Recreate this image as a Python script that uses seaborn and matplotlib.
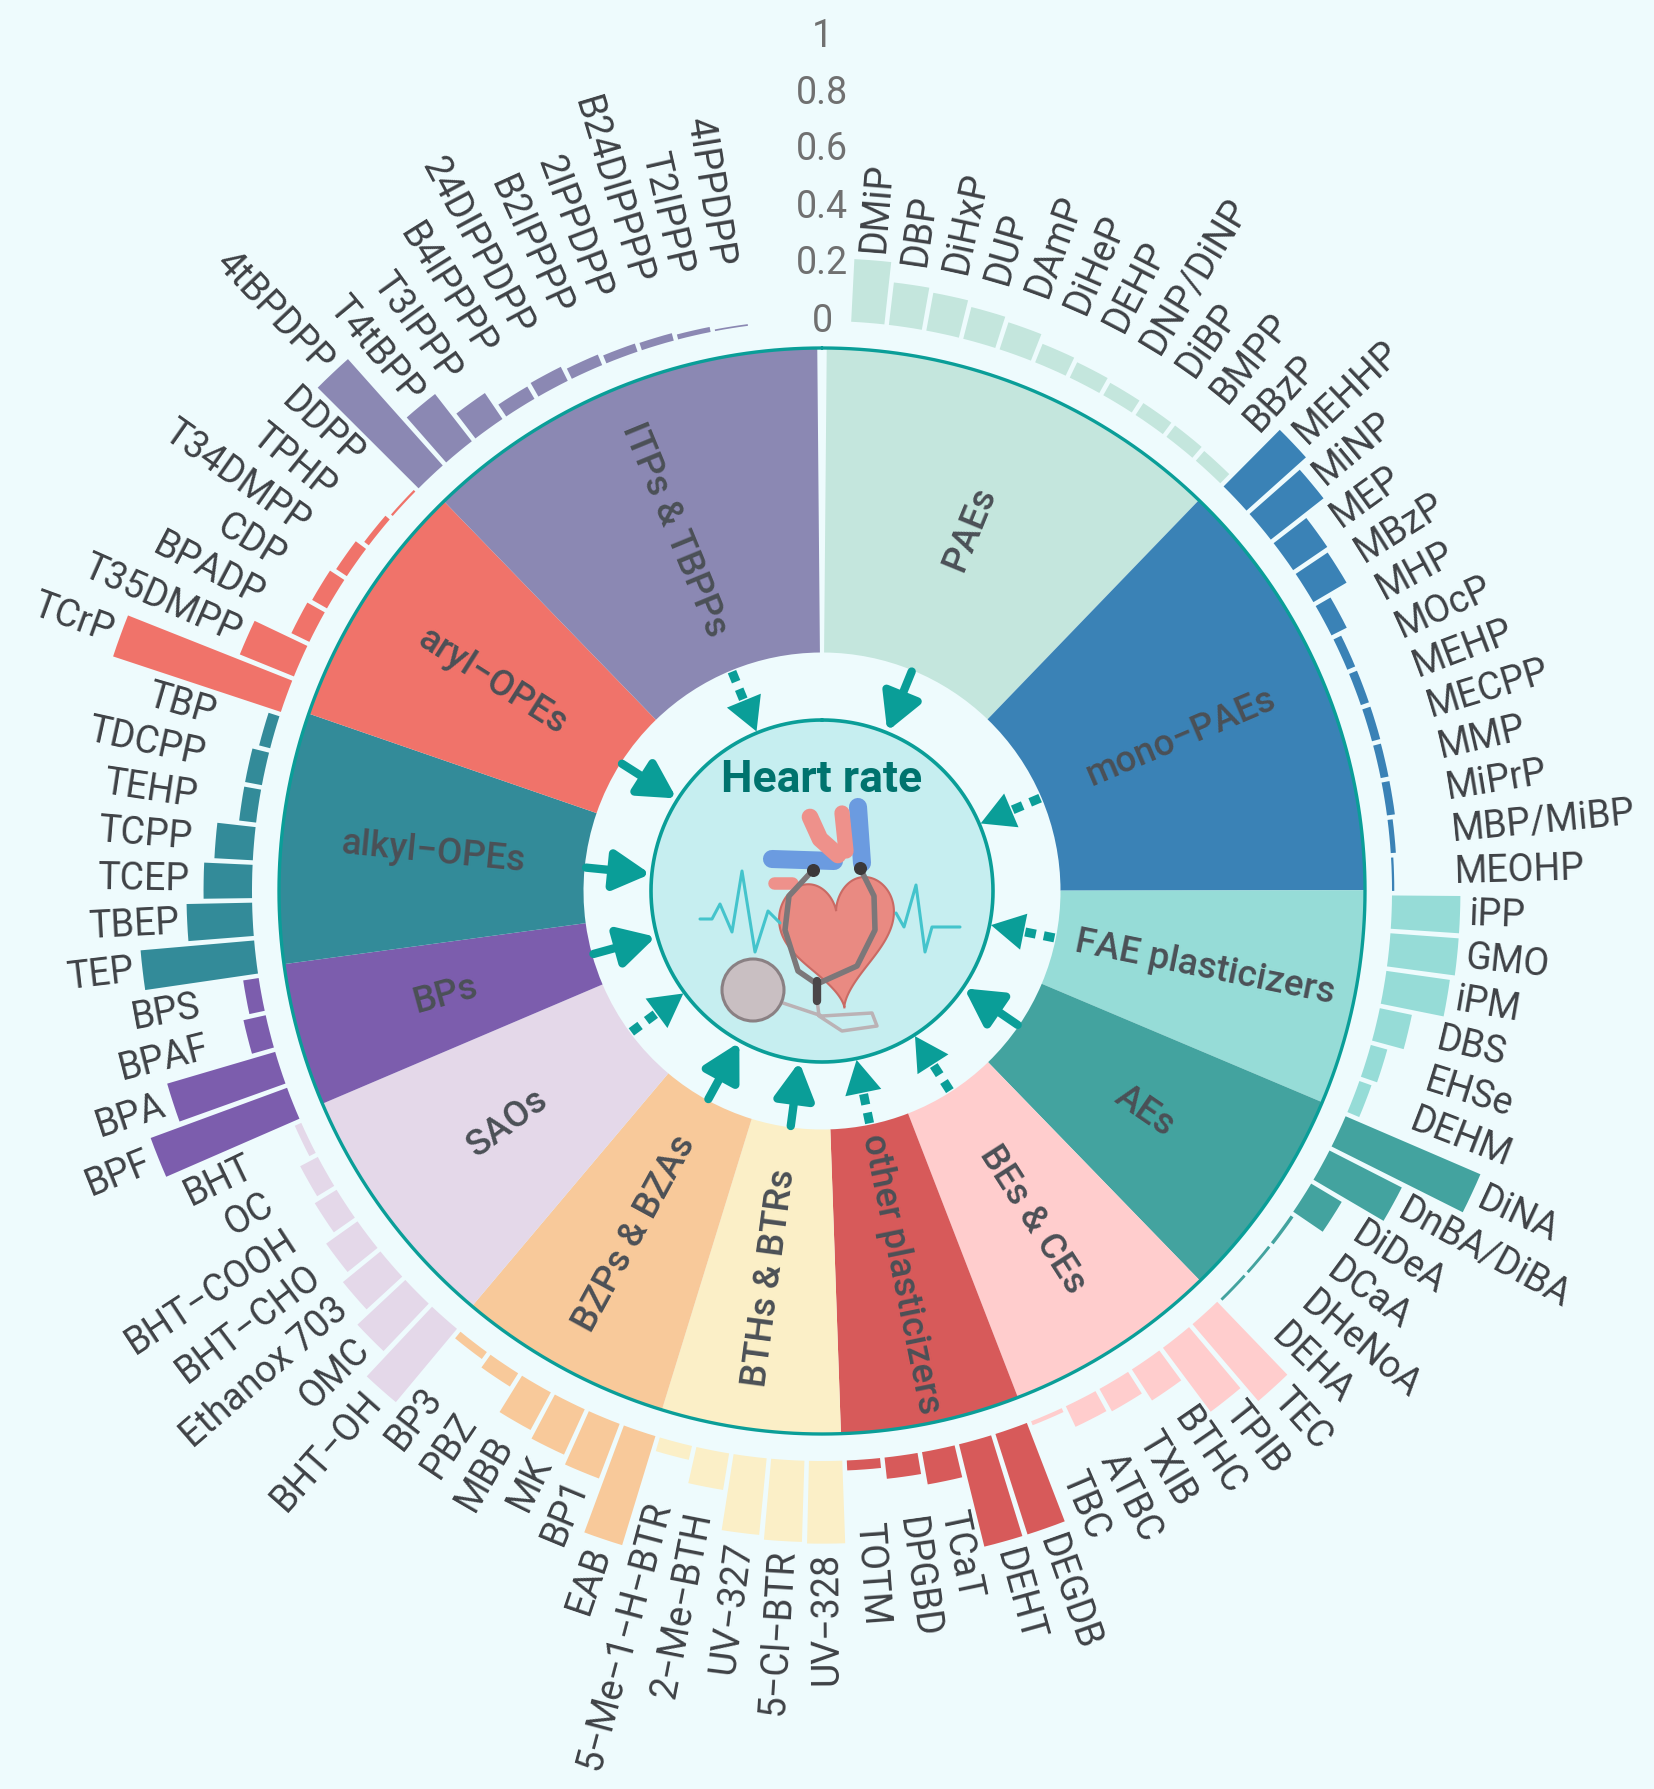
import numpy as np
import matplotlib.pyplot as plt
import seaborn as sns

# ---------------- data (clockwise from the top) ----------------
group_names = ["PAEs", "mono-PAEs", "FAE plasticizers", "AEs", "BEs & CEs",
               "other plasticizers", "BTHs & BTRs", "BZPs & BZAs", "SAOs", "BPs",
               "alkyl-OPEs", "aryl-OPEs", "ITPs & TBPPs"]
group_colors = ["#c4e6dd", "#3a82b6", "#96dcd7", "#43a39f", "#ffcdcd", "#d75a5a",
                "#fbefc7", "#f8c99a", "#e4d8e9", "#7c5dad", "#338b99", "#f0736a", "#8b88b3"]
# solid arrow = True, dotted arrow = False
group_solid = [True, False, False, True, False, False, True, True, False, True, True, True, False]

pae_names = ["DMiP", "DBP", "DiHxP", "DUP", "DAmP", "DiHeP", "DEHP", "DNP/DiNP", "DiBP", "BMPP", "BBzP"]
pae_vals = [0.22, 0.15, 0.135, 0.115, 0.10, 0.07, 0.06, 0.05, 0.05, 0.05, 0.045]

mono_names = ["MEHHP", "MiNP", "MEP", "MBzP", "MHP", "MOcP", "MEHP", "MECPP", "MMP", "MiPrP",
              "MBP/MiBP", "MEOHP"]
mono_vals = [0.28, 0.235, 0.145, 0.135, 0.06, 0.03, 0.03, 0.03, 0.028, 0.028, 0.018, 0.008]

fae_names = ["iPP", "GMO", "iPM", "DBS", "EHSe", "DEHM"]
fae_vals = [0.24, 0.24, 0.225, 0.115, 0.06, 0.045]

ae_names = ["DiNA", "DnBA/DiBA", "DiDeA", "DCaA", "DHeNoA", "DEHA"]
ae_vals = [0.515, 0.285, 0.125, 0.012, 0.01, 0.01]

be_names = ["TEC", "TPIB", "BTHC", "TXIB", "ATBC", "TBC"]
be_vals = [0.355, 0.28, 0.13, 0.09, 0.08, 0.015]

other_names = ["DEGDB", "DEHT", "TCaT", "DPGBD", "TOTM"]
other_vals = [0.37, 0.37, 0.115, 0.075, 0.035]

bth_names = ["UV-328", "5-Cl-BTR", "UV-327", "2-Me-BTH", "5-Me-1-H-BTR"]
bth_vals = [0.29, 0.285, 0.27, 0.13, 0.05]

bzp_names = ["EAB", "BP1", "MK", "MBB", "PBZ", "BP3"]
bzp_vals = [0.40, 0.205, 0.175, 0.15, 0.055, 0.03]

sao_names = ["BHT-OH", "OMC", "Ethanox 703", "BHT-CHO", "BHT-COOH", "OC", "BHT"]
sao_vals = [0.335, 0.23, 0.17, 0.135, 0.09, 0.07, 0.025]

bp_names = ["BPF", "BPA", "BPAF", "BPS"]
bp_vals = [0.51, 0.395, 0.08, 0.055]

alkyl_names = ["TEP", "TBEP", "TCEP", "TCPP", "TEHP", "TDCPP", "TBP"]
alkyl_vals = [0.40, 0.23, 0.17, 0.135, 0.06, 0.06, 0.04]

aryl_names = ["TCrP", "T35DMPP", "BPADP", "CDP", "T34DMPP", "TPHP", "DDPP"]
aryl_vals = [0.62, 0.205, 0.07, 0.06, 0.045, 0.02, 0.008]

itp_names = ["4tBPDPP", "T4tBPP", "T3IPPP", "B4IPPPP", "24DIPPDPP", "B2IPPPP", "2IPPDPP",
             "B24DIPPPP", "T2IPPP", "4IPPDPP"]
itp_vals = [0.50, 0.21, 0.11, 0.05, 0.055, 0.04, 0.03, 0.027, 0.018, 0.006]

tick_vals = [0, 0.2, 0.4, 0.6, 0.8, 1]
tick_labels = ["0", "0.2", "0.4", "0.6", "0.8", "1"]

names_by_group = [pae_names, mono_names, fae_names, ae_names, be_names, other_names,
                  bth_names, bzp_names, sao_names, bp_names, alkyl_names, aryl_names, itp_names]
vals_by_group = [pae_vals, mono_vals, fae_vals, ae_vals, be_vals, other_vals,
                 bth_vals, bzp_vals, sao_vals, bp_vals, alkyl_vals, aryl_vals, itp_vals]

# ---------------- layout (pixel geometry of the 1654x1789 canvas) ----------------
W, H = 1654, 1789
CX, CY = 822, 891          # centre of the wheel
U = 285.0                  # pixels per unit value
RA = 822                   # radius of polar axes in px
R_IN = 238.5 / U           # inner edge of class sectors
R_OUT = 543 / U            # outer edge of class sectors / teal ring
R0 = 2.0                   # base of the bars
R_HEART = 171 / U
ROT = -2.0                 # rotation of the sector layout (deg)
BAR_SLOT = 3.805           # angular pitch of the bars (deg)
BAR_ROT = -1.1
LABEL_MIN = 0.19           # short bars get their label at a common radius

BG = "#eefbfd"
TEAL = "#0a9e98"
TXT = "#3f4246"


def minus(s):
    # the original figure typesets hyphens as minus signs
    return s.replace("-", "\u2212")


sns.set_theme(style="white")
plt.rcParams["font.family"] = ["Roboto", "DejaVu Sans"]

fig = plt.figure(figsize=(W / 100, H / 100), dpi=100, facecolor=BG)
ax = fig.add_axes([(CX - RA) / W, (H - CY - RA) / H, 2 * RA / W, 2 * RA / H], projection="polar")
ax.set_theta_zero_location("N")
ax.set_theta_direction(-1)
ax.set_ylim(0, RA / U)
ax.axis("off")

n_items = sum(len(v) for v in vals_by_group)
n_slots = n_items + 2          # two empty slots at the top for the scale
slot = 360.0 / n_slots

# ---------------- class sectors and bars ----------------
k = 1
bar_theta, bar_vals, bar_cols, bar_names = [], [], [], []
sector_info = []
for gi, (names, vals) in enumerate(zip(names_by_group, vals_by_group)):
    start = k * slot + ROT
    end = (k + len(vals)) * slot + ROT
    if gi == 0:
        start = 0.5
    if gi == len(vals_by_group) - 1:
        end = 359.5
    sector_info.append((start, end))
    for j, (nm, v) in enumerate(zip(names, vals)):
        bar_theta.append((k + j + 0.5) * BAR_SLOT + BAR_ROT)
        bar_vals.append(v)
        bar_cols.append(group_colors[gi])
        bar_names.append(nm)
    k += len(vals)

for gi, (s, e) in enumerate(sector_info):
    ax.bar(np.deg2rad((s + e) / 2), R_OUT - R_IN, width=np.deg2rad(e - s), bottom=R_IN,
           color=group_colors[gi], linewidth=0, zorder=2)

bar_theta = np.array(bar_theta)
ax.bar(np.deg2rad(bar_theta), bar_vals, width=np.deg2rad(BAR_SLOT) * 0.88, bottom=R0,
       color=bar_cols, linewidth=0, zorder=2)

# teal ring
th = np.linspace(0, 2 * np.pi, 721)
ax.plot(th, np.full_like(th, R_OUT), color=TEAL, lw=2.4, zorder=3)

# inner heart-rate disc
ax.fill(th, np.full_like(th, R_HEART), color="#c6eef0", zorder=3, linewidth=0)
ax.plot(th, np.full_like(th, R_HEART), color=TEAL, lw=2.6, zorder=4)

# ---------------- labels ----------------
def radial_text(theta_deg, r, txt, **kw):
    t = theta_deg % 360
    rot = 90 - t
    ha = "left"
    if t > 178:
        rot += 180
        ha = "right"
    ax.text(np.deg2rad(t), r, minus(txt), rotation=rot, rotation_mode="anchor",
            ha=kw.pop("ha", ha), va="center", **kw)

for t, v, nm in zip(bar_theta, bar_vals, bar_names):
    radial_text(t, R0 + max(v, LABEL_MIN) + 0.03, nm, fontsize=27, color=TXT, zorder=5)

r_mid = (R_IN + R_OUT) / 2
for gi, (s, e) in enumerate(sector_info):
    radial_text((s + e) / 2, r_mid, group_names[gi], ha="center", fontsize=26.5,
                fontweight="medium", color="#4b5056", zorder=5)

for tv, tl in zip(tick_vals, tick_labels):
    ax.text(0, R0 + tv, tl, ha="center", va="center", fontsize=27, color="#707070", zorder=5)

ax.text(0, 111 / U, "Heart rate", ha="center", va="center", fontsize=32,
        fontweight="bold", color="#00736e", zorder=6)

# ---------------- arrows from each class to the centre ----------------
head_len = 33 / U
for gi, (s, e) in enumerate(sector_info):
    t = np.deg2rad((s + e) / 2)
    if group_solid[gi]:
        ax.annotate("", xy=(t, R_HEART + 0.005), xytext=(t, R_IN - 0.005),
                    arrowprops=dict(arrowstyle="-|>,head_length=1.0,head_width=0.55",
                                    color=TEAL, lw=6, mutation_scale=22,
                                    shrinkA=0, shrinkB=0), zorder=5)
    else:
        ax.plot([t, t], [R_IN - 0.005, R_HEART + head_len - 0.01], color=TEAL, lw=6.5,
                ls=(0, (1.2, 0.9)), solid_capstyle="butt", zorder=5)
        ax.annotate("", xy=(t, R_HEART + 0.005), xytext=(t, R_HEART + head_len + 0.02),
                    arrowprops=dict(arrowstyle="-|>,head_length=1.0,head_width=0.55",
                                    color=TEAL, lw=0, mutation_scale=24,
                                    shrinkA=0, shrinkB=0), zorder=5)

# ---------------- simple heart illustration (decoration) ----------------
RH = 171
hx = fig.add_axes([(CX - RH) / W, (H - CY - RH) / H, 2 * RH / W, 2 * RH / H])
hx.set_xlim(-RH, RH)
hx.set_ylim(-RH, RH)
hx.axis("off")
hx.patch.set_alpha(0)

ecg_x = [-122, -110, -102, -90, -80, -67, -54, -42, 74, 82, 94, 103, 110, 138]
ecg_y = [-28, -28, -13, -41, 20, -61, -20, -32, -22, -36, 6, -61, -36, -36]
hx.plot(ecg_x[:8], ecg_y[:8], color="#44c4cc", lw=2.2)
hx.plot(ecg_x[8:], ecg_y[8:], color="#44c4cc", lw=2.2)

# vessels
hx.plot([-50, 12], [32, 30], color="#6b9be0", lw=13, solid_capstyle="round")
hx.plot([40, 36], [28, 84], color="#6b9be0", lw=13, solid_capstyle="round")
hx.plot([-12, -2, 16], [74, 52, 36], color="#ee918b", lw=12, solid_capstyle="round")
hx.plot([20, 24], [78, 40], color="#ee918b", lw=11, solid_capstyle="round")
hx.plot([-48, -30], [8, 8], color="#ee918b", lw=9, solid_capstyle="round")

t = np.linspace(0, 2 * np.pi, 300)
hxs = 16 * np.sin(t) ** 3
hys = 13 * np.cos(t) - 5 * np.cos(2 * t) - 2 * np.cos(3 * t) - np.cos(4 * t)
ang = np.deg2rad(6)
xr = hxs * np.cos(ang) - hys * np.sin(ang)
yr = hxs * np.sin(ang) + hys * np.cos(ang)
hx.fill(xr * 3.6 + 16, yr * 4.4 - 42, color="#e98a82", ec="#c96a64", lw=1.5)

# stethoscope
hx.plot([-5, -3, 20, 55, 50, 0, -45], [-108, -125, -140, -135, -122, -125, -110],
        color="#bbb2b5", lw=2.5)
hx.plot([-9, -33, -37, -24, -5], [21, -5, -39, -80, -93], color="#7c7779", lw=4)
hx.plot([38, 52, 53, 35, -5], [23, -5, -39, -75, -93], color="#7c7779", lw=4)
hx.plot([-5, -5], [-90, -110], color="#4a4648", lw=6, solid_capstyle="round")
hx.scatter([-9, 38], [21, 23], s=70, color="#3b3839", zorder=3)
disc = plt.Circle((-69, -99), 31, color="#c9bfc2", ec="#8a8083", lw=2.2, zorder=3)
hx.add_patch(disc)

fig.savefig("out.png", dpi=100, facecolor=BG)
